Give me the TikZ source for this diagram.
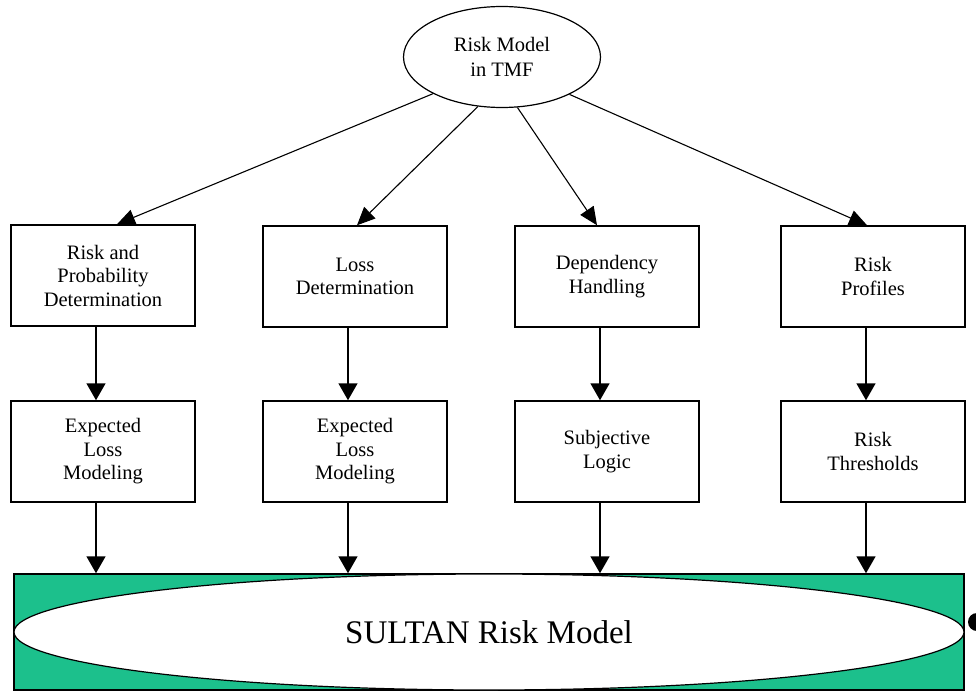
\documentclass[tikz,border=0pt]{standalone}
\usepackage{fontspec}
\setmainfont{Liberation Serif}
\usetikzlibrary{shapes.geometric,arrows.meta}
\definecolor{sultangreen}{RGB}{28,192,140}
\tikzset{
  box/.style={draw, line width=1.5pt, rectangle, minimum width=184pt, minimum height=101pt, inner sep=0pt, align=center, font=\fontsize{20.5}{23.5}\selectfont},
  arr/.style={line width=1.6pt, -{Triangle[length=17pt,width=19pt]}},
  darr/.style={line width=1.1pt, -{Triangle[length=18pt,width=16pt]}},
}
\begin{document}
\begin{tikzpicture}[x=1pt,y=-1pt]
\useasboundingbox (0,0) rectangle (976,693);
% top ellipse
\node[draw, ellipse, line width=1.2pt, minimum width=197pt, minimum height=101pt, inner sep=0pt, align=center, font=\fontsize{20.5}{25}\selectfont] (top) at (502,57) {Risk Model\\in TMF};
% first row
\node[box] (b1) at (103,275.5) {Risk and\\Probability\\Determination};
\node[box] (b2) at (355,276.5) {Loss\\Determination};
\node[box] (b3) at (607,276.5) {Dependency\\Handling};
\node[box] (b4) at (873,276.5) {Risk\\Profiles};
% second row
\node[box] (c1) at (103,451.5) {Expected\\Loss\\Modeling};
\node[box] (c2) at (355,451.5) {Expected\\Loss\\Modeling};
\node[box] (c3) at (607,451.5) {Subjective\\Logic};
\node[box] (c4) at (873,451.5) {Risk\\Thresholds};
% bottom
\node[draw, line width=1.5pt, fill=sultangreen, rectangle, minimum width=950pt, minimum height=116pt, inner sep=0pt] (base) at (489,632) {};
\node[draw, line width=1.2pt, fill=white, ellipse, minimum width=950pt, minimum height=116pt, inner sep=0pt, font=\fontsize{33}{38}\selectfont] (sultan) at (489,632) {SULTAN Risk Model};
\fill (977,622) circle (9pt);
% diagonal arrows
\draw[darr] (top.208) -- ([xshift=14pt]b1.north);
\draw[darr] (top.244) -- ([xshift=2pt]b2.north);
\draw[darr] (top.287) -- ([xshift=-10pt]b3.north);
\draw[darr] (top.331) -- ([xshift=-6pt]b4.north);
% vertical arrows
\foreach \i in {1,2,3,4}{
  \draw[arr] ([xshift=-7pt]b\i.south) -- ([xshift=-7pt]c\i.north);
  \draw[arr] ([xshift=-7pt]c\i.south) -- ([xshift=-7pt]c\i.south |- base.north);
}
\end{tikzpicture}
\end{document}
